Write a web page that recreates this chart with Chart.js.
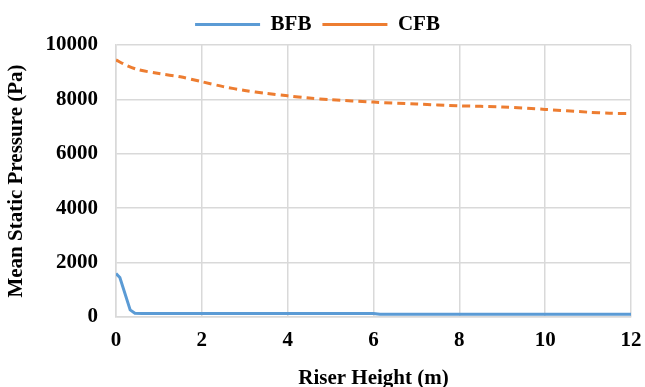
<!DOCTYPE html>
<html>
<head>
<meta charset="utf-8">
<script src="https://cdn.jsdelivr.net/npm/chart.js@4"></script>
<style>
  html, body { margin: 0; padding: 0; background: #fff; }
  #wrap { width: 645px; height: 387px; }
</style>
</head>
<body>
<div id="wrap"><canvas id="myChart"></canvas></div>
<script>
// Presion estatica media vs altura del riser
const bfbHeight = [0, 0.09, 0.33, 0.44, 0.6, 1, 2, 3, 4, 5, 6, 6.15, 7, 8, 9, 10, 11, 12];
const bfbPressure = [1600, 1450, 260, 140, 130, 130, 130, 130, 130, 130, 125, 100, 100, 100, 100, 100, 100, 100];

const cfbHeight = [0, 0.25, 0.5, 1, 1.5, 2, 2.5, 3, 3.5, 4, 4.5, 5, 6, 7, 8, 9, 10, 11, 11.5, 12];
const cfbPressure = [9450, 9250, 9100, 8950, 8830, 8650, 8470, 8330, 8220, 8130, 8050, 7990, 7900, 7830, 7765, 7720, 7632, 7530, 7490, 7485];

const xTicks = [0, 2, 4, 6, 8, 10, 12];

function pts(xs, ys) {
  return xs.map((x, i) => ({ x: x, y: ys[i] }));
}

const serif = 'Liberation Serif';
const gridColor = '#d9d9d9';

const ctx = document.getElementById('myChart');
let graphData = {
  type: 'line',
  data: {
    datasets: [{
      label: 'BFB',
      data: pts(bfbHeight, bfbPressure),
      borderColor: '#5b9bd5',
      backgroundColor: '#5b9bd5',
      borderWidth: 3,
      pointRadius: 0,
      tension: 0
    }, {
      label: 'CFB',
      data: pts(cfbHeight, cfbPressure),
      borderColor: '#ed7d31',
      backgroundColor: '#ed7d31',
      borderWidth: 3,
      borderDash: [8, 5],
      pointRadius: 0,
      tension: 0.3
    }]
  },
  options: {
    responsive: true,
    maintainAspectRatio: false,
    animation: false,
    layout: { padding: { left: 4, right: 14, top: 3, bottom: -4 } },
    plugins: {
      legend: {
        position: 'top',
        labels: {
          usePointStyle: true,
          pointStyleWidth: 65,
          pointStyle: 'line',
          color: '#000',
          font: { family: serif, size: 21, weight: 'bold' },
          padding: 11
        }
      },
      tooltip: { enabled: false }
    },
    scales: {
      x: {
        type: 'linear',
        min: 0,
        max: 12,
        afterBuildTicks: (scale) => { scale.ticks = xTicks.map(v => ({ value: v })); },
        afterFit: (scale) => { scale.height = 74; scale.paddingRight = 0; scale.paddingLeft = 0; },
        grid: { color: gridColor, lineWidth: 1.5, drawTicks: false },
        border: { color: gridColor, width: 1.5 },
        ticks: {
          color: '#000',
          padding: 11,
          font: { family: serif, size: 21, weight: 'bold' }
        },
        title: {
          display: true,
          text: 'Riser Height (m)',
          color: '#000',
          padding: { top: 4, bottom: 0 },
          font: { family: serif, size: 21, weight: 'bold' }
        }
      },
      y: {
        min: 0,
        max: 10000,
        afterFit: (scale) => { scale.width = 112; },
        grid: { color: gridColor, lineWidth: 1.5, drawTicks: false },
        border: { color: gridColor, width: 1.5 },
        ticks: {
          stepSize: 2000,
          color: '#000',
          padding: 18,
          callback: (v) => String(v),
          font: { family: serif, size: 21, weight: 'bold' }
        },
        title: {
          display: true,
          text: 'Mean Static Pressure (Pa)',
          color: '#000',
          padding: { top: 0, bottom: 6 },
          font: { family: serif, size: 21, weight: 'bold' }
        }
      }
    }
  }
};

let myChart = new Chart(ctx, graphData);
</script>
</body>
</html>
